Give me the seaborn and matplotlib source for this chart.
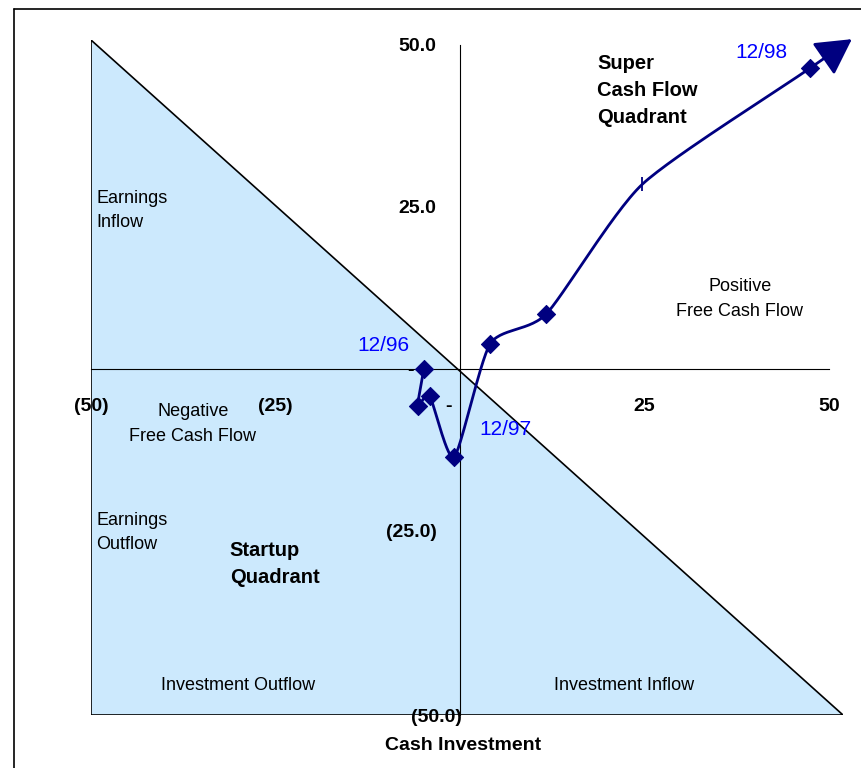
import numpy as np
import pandas as pd
import matplotlib
matplotlib.use("Agg")
import matplotlib.pyplot as plt
from matplotlib.lines import Line2D
from matplotlib.patches import Polygon
import seaborn as sns

sns.set_theme(style="white")
plt.rcParams["font.family"] = ["Liberation Sans", "DejaVu Sans"]
plt.rcParams["text.color"] = "black"
plt.rcParams["xtick.color"] = "black"
plt.rcParams["ytick.color"] = "black"

# Quarterly path of (free cash flow, cash investment), 12/96 .. 12/98
fcf = [-4.9, -5.7, -4.1, -0.8, 4.1, 11.7, 24.7, 47.4]
investment = [0.0, -5.7, -4.2, -13.6, 3.9, 8.5, 28.5, 46.4]
marker_kind = ["D", "D", "D", "D", "D", "D", "|", "D"]
arrow_tip = (53.1, 50.9)

date_labels = ["12/96", "12/97", "12/98"]
date_label_pos = [(-10.4, 3.7), (6.1, -9.4), (40.8, 48.9)]

x_ticks = [-50, -25, 0, 25, 50]
x_tick_labels = ["(50)", "(25)", "-    ", "25", "50"]
y_ticks = [50, 25, 0, -25]
y_tick_labels = ["50.0", "25.0", "-    ", "(25.0)"]

XMIN, XMAX = -50.0, 51.9
YMIN, YMAX = -53.4, 50.77

NAVY = "#000080"
FILL = "#CCE9FD"


def smooth_curve(px, py, tension=0.65, n=30):
    """Cubic Hermite curve through the points with Catmull-Rom style tangents."""
    p = np.column_stack([px, py])
    m = np.zeros_like(p)
    m[1:-1] = (p[2:] - p[:-2]) / 2 * tension
    m[0] = (p[1] - p[0]) * tension
    m[-1] = (p[-1] - p[-2]) * tension
    out = []
    t = np.linspace(0, 1, n, endpoint=False)[:, None]
    h00 = 2 * t ** 3 - 3 * t ** 2 + 1
    h10 = t ** 3 - 2 * t ** 2 + t
    h01 = -2 * t ** 3 + 3 * t ** 2
    h11 = t ** 3 - t ** 2
    for i in range(len(p) - 1):
        out.append(h00 * p[i] + h10 * m[i] + h01 * p[i + 1] + h11 * m[i + 1])
    out.append(p[-1][None, :])
    s = np.vstack(out)
    return s[:, 0], s[:, 1]


fig = plt.figure(figsize=(8.62, 7.68), dpi=100)
ax = fig.add_axes([91 / 862, 1 - 715 / 768, (843 - 91) / 862, (715 - 40) / 768])
ax.set_xlim(XMIN, XMAX)
ax.set_ylim(YMIN, YMAX)
ax.set_facecolor("none")

# Shaded triangle below the break-even diagonal
tri = Polygon([(XMIN, YMAX), (XMIN, YMIN), (XMAX, YMIN)], closed=True,
              facecolor=FILL, edgecolor="black", linewidth=1.2, zorder=0)
ax.add_patch(tri)

# Axes through the origin
for side in ["top", "right"]:
    ax.spines[side].set_visible(False)
ax.spines["left"].set_position(("data", 0))
ax.spines["bottom"].set_position(("data", 0))
ax.spines["left"].set_bounds(YMIN, 50)
ax.spines["bottom"].set_bounds(-50, 50)
for side in ["left", "bottom"]:
    ax.spines[side].set_color("black")
    ax.spines[side].set_linewidth(0.8)
    ax.spines[side].set_zorder(1)

ax.set_xticks(x_ticks)
ax.set_xticklabels(x_tick_labels, fontsize=14, fontweight="bold")
ax.set_yticks(y_ticks + [YMIN])
ax.set_yticklabels(y_tick_labels + ["(50.0)"], fontsize=14, fontweight="bold")
ax.tick_params(axis="x", direction="out", length=5, width=0.8, pad=16, colors="black")
ax.tick_params(axis="y", direction="out", length=6, width=0.8, pad=11, colors="black")
ax.yaxis.get_major_ticks()[-1].tick1line.set_visible(False)
ax.yaxis.get_major_ticks()[-1].label1.set_horizontalalignment("center")
ax.yaxis.get_major_ticks()[-1].label1.set_x(-0.005)

# Smoothed trajectory
sx, sy = smooth_curve(fcf, investment)
path = pd.DataFrame({"fcf": sx, "inv": sy})
sns.lineplot(data=path, x="fcf", y="inv", sort=False, estimator=None,
             color=NAVY, linewidth=2.0, ax=ax, zorder=3)

pts = pd.DataFrame({"fcf": fcf, "inv": investment, "kind": marker_kind})
diam = pts[pts["kind"] == "D"]
bar = pts[pts["kind"] == "|"]
sns.scatterplot(data=diam, x="fcf", y="inv", marker="D", s=85, color=NAVY,
                edgecolor=NAVY, ax=ax, zorder=4, legend=False)
sns.scatterplot(data=bar, x="fcf", y="inv", marker="|", s=110, color=NAVY,
                linewidth=1.3, ax=ax, zorder=4, legend=False)

ax.annotate("", xy=arrow_tip, xytext=(fcf[-1], investment[-1]),
            arrowprops=dict(arrowstyle="-|>,head_length=1.0,head_width=0.55",
                            mutation_scale=22, color=NAVY, lw=2.0,
                            shrinkA=0, shrinkB=0),
            annotation_clip=False, zorder=5)

for lab, (lx, ly) in zip(date_labels, date_label_pos):
    ax.text(lx, ly, lab, color="#0000FF", fontsize=15, ha="center", va="center")

# Region annotations
reg = dict(fontsize=13, color="black", linespacing=1.55)
ax.text(-49.3, 24.5, "Earnings\nInflow", ha="left", va="center", **reg)
ax.text(-49.3, -25.2, "Earnings\nOutflow", ha="left", va="center", **reg)
ax.text(-36.2, -8.5, "Negative\nFree Cash Flow", ha="center", va="center", **reg)
ax.text(37.9, 10.8, "Positive\nFree Cash Flow", ha="center", va="center", **reg)
ax.text(-30.1, -48.8, "Investment Outflow", ha="center", va="center", fontsize=13)
ax.text(22.2, -48.8, "Investment Inflow", ha="center", va="center", fontsize=13)

ax.text(18.6, 43.0, "Super\nCash Flow\nQuadrant", ha="left", va="center",
        fontsize=14.5, fontweight="bold", linespacing=1.55)
ax.text(-31.2, -30.1, "Startup\nQuadrant", ha="left", va="center",
        fontsize=14.5, fontweight="bold", linespacing=1.55)

ax.set_xlabel("")
ax.set_ylabel("")
fig.text(463 / 862, 1 - 745 / 768, "Cash Investment", ha="center", va="center",
         fontsize=14, fontweight="bold")

# Chart-area frame
fig.add_artist(Line2D([14 / 862, 1.0], [1 - 9 / 768, 1 - 9 / 768],
                      transform=fig.transFigure, color="black", lw=1.2))
fig.add_artist(Line2D([14 / 862, 14 / 862], [0.0, 1 - 9 / 768],
                      transform=fig.transFigure, color="black", lw=1.2))

fig.savefig("out.png", dpi=100)
